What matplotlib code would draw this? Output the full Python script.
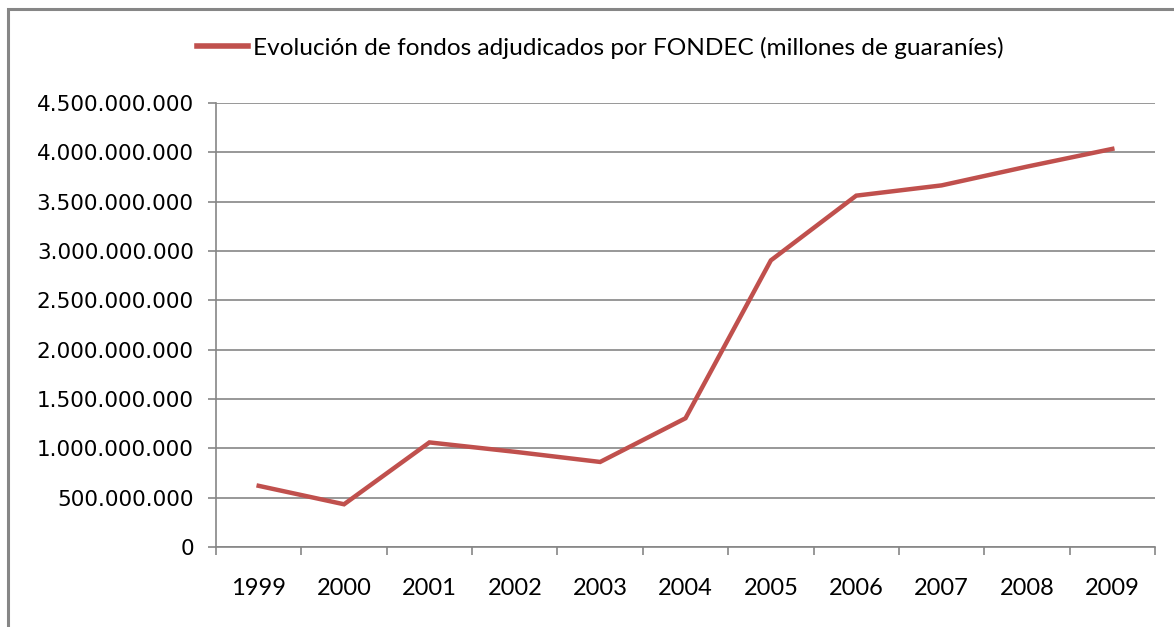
import matplotlib.pyplot as plt
from matplotlib.patches import Rectangle
from matplotlib.ticker import FuncFormatter, MultipleLocator

years = ['1999', '2000', '2001', '2002', '2003', '2004', '2005', '2006', '2007', '2008', '2009']
fondos = [620e6, 433e6, 1060e6, 965e6, 862e6, 1305e6, 2905e6, 3561e6, 3665e6, 3855e6, 4035e6]
serie = 'Evolución de fondos adjudicados por FONDEC (millones de guaraníes)'

gris = '#868686'
rojo = '#C0504D'

fig = plt.figure(figsize=(11.74, 6.27), dpi=100)
ax = fig.add_axes([216 / 1174, 1 - 547 / 627, 939 / 1174, 444 / 627])

# borde del grafico (solo se ve arriba y a la izquierda)
fig.patches.append(Rectangle((8 / 1174, -0.05), 1.1, 1 - 9 / 627 + 0.05,
                             transform=fig.transFigure, fill=False,
                             edgecolor=gris, linewidth=2.2))

x = list(range(len(years)))
ax.plot(x, fondos, color=rojo, linewidth=3.2, label=serie, solid_joinstyle='miter')

ax.set_xlim(-0.5, len(years) - 0.5)
ax.set_ylim(0, 4.5e9)
ax.yaxis.set_major_locator(MultipleLocator(5e8))
ax.yaxis.set_major_formatter(FuncFormatter(lambda v, p: f'{int(v):,}'.replace(',', '.')))
ax.grid(axis='y', color=gris, linewidth=1.2)
ax.set_axisbelow(True)

ax.set_xticks(x)
ax.set_xticklabels(years, family=['Lato', 'DejaVu Sans'], fontsize=17)
ax.set_xticks([i - 0.5 for i in range(len(years) + 1)], minor=True)
ax.tick_params(axis='x', which='major', length=0, pad=22)
ax.tick_params(axis='x', which='minor', length=6, width=1.2, color=gris)
ax.tick_params(axis='y', length=6, width=1.2, color=gris, pad=10, labelsize=15.5)

for s in ['top', 'right']:
    ax.spines[s].set_visible(False)
for s in ['left', 'bottom']:
    ax.spines[s].set_color(gris)
    ax.spines[s].set_linewidth(1.2)

leg = ax.legend(loc='center', bbox_to_anchor=(600 / 1174, 1 - 48 / 627),
                bbox_transform=fig.transFigure, frameon=False, handlelength=2.1,
                handletextpad=0.2, prop={'family': ['Lato', 'DejaVu Sans'], 'size': 17.6})
for l in leg.get_lines():
    l.set_linewidth(4)

fig.savefig('out.png', dpi=100)
